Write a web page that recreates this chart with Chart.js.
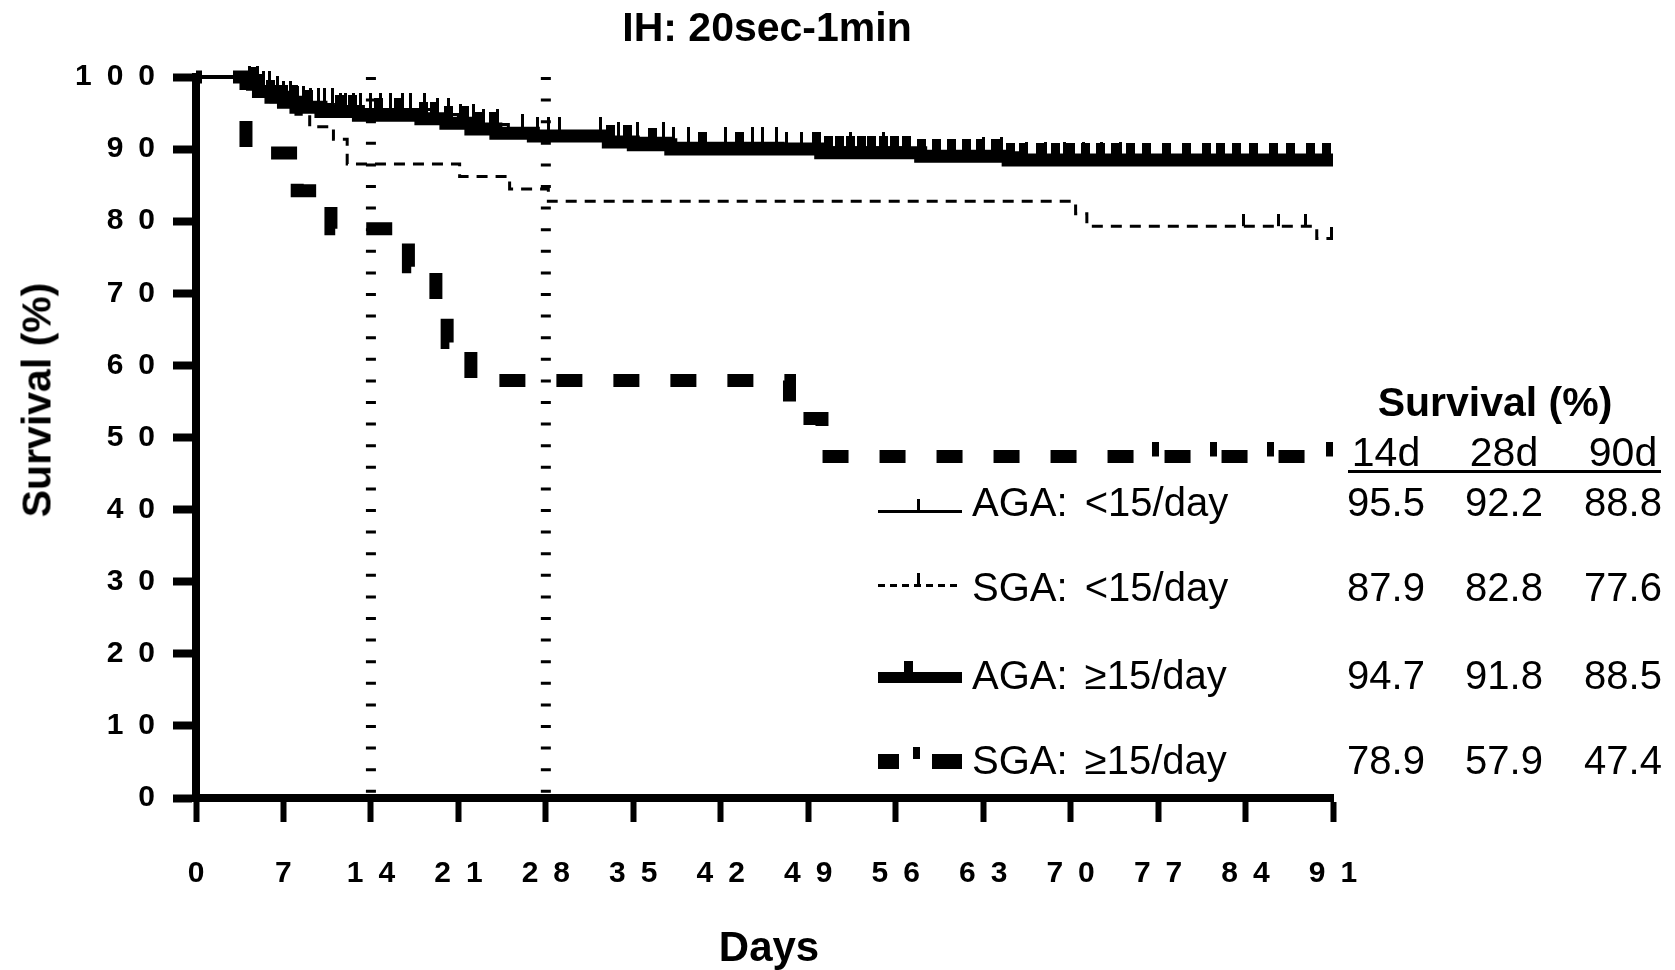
<!DOCTYPE html>
<html>
<head>
<meta charset="utf-8">
<title>IH: 20sec-1min</title>
<script src="https://cdn.jsdelivr.net/npm/chart.js@4.4.1/dist/chart.umd.min.js"></script>
<style>
body { margin: 0; background: #fff; }
#wrap { position: relative; width: 1675px; height: 970px; font-family: "Liberation Sans", Arial, sans-serif; color: #000; }
#wrap canvas { position: absolute; left: 0; top: 0; }
.lbl { position: absolute; line-height: 1; white-space: nowrap; transform: translate(-50%, -50%); }
.lft { transform: translate(0, -50%); }
.mk { position: absolute; background: #000; }
</style>
</head>
<body>
<div id="wrap">
  <canvas id="kmChart" width="1675" height="970"></canvas>

  <div class="lbl" style="left:767px; top:27px; font-size:41px; font-weight:bold;">IH: 20sec-1min</div>
  <div class="lbl" style="left:37px; top:400px; font-size:41px; font-weight:bold; transform:translate(-50%,-50%) rotate(-90deg);">Survival (%)</div>
  <div class="lbl" style="left:769px; top:947px; font-size:42px; font-weight:bold;">Days</div>

  <!-- legend samples -->
  <div class="mk" style="left:878px; top:510px; width:84px; height:3px;"></div>
  <div class="mk" style="left:917px; top:499px; width:3px; height:12px;"></div>

  <div class="mk" style="left:878px; top:584px; width:84px; height:3px; background:repeating-linear-gradient(90deg, #000 0 7px, transparent 7px 12px);"></div>
  <div class="mk" style="left:917px; top:573px; width:3px; height:12px;"></div>

  <div class="mk" style="left:878px; top:672px; width:84px; height:11px;"></div>
  <div class="mk" style="left:904px; top:661px; width:9px; height:12px;"></div>

  <div class="mk" style="left:878px; top:754px; width:21px; height:15px;"></div>
  <div class="mk" style="left:913px; top:747px; width:7px; height:12px;"></div>
  <div class="mk" style="left:932px; top:754px; width:30px; height:15px;"></div>

  <div id="legendText"></div>
  <div id="survTable"></div>
</div>

<script>
// Axis ticks
const xTicks = [0, 7, 14, 21, 28, 35, 42, 49, 56, 63, 70, 77, 84, 91];
const yTicks = [0, 10, 20, 30, 40, 50, 60, 70, 80, 90, 100];
const markerDays = [14, 28];

// Kaplan-Meier steps: day of each drop, survival (%) after it
const agaLowDays = [0, 4, 5, 6, 7, 8, 9, 11, 19, 21, 23, 25, 27, 33, 38, 47, 57, 66, 91];
const agaLowSurv = [100, 99.3, 98.6, 97.9, 97.2, 96.6, 96.2, 95.5, 94.8, 94.1, 93.4, 92.6, 92.2, 91.5, 90.8, 90.2, 89.5, 88.8, 88.8];
const agaLowCensor = [4.3, 4.9, 5.4, 5.9, 6.5, 7.0, 7.6, 8.1, 8.6, 9.2, 9.8, 10.3, 10.9, 11.6, 12.0, 12.6, 13.2,
                      14.0, 14.8, 15.6, 16.5, 17.2, 18.3, 19.3, 20.2, 21.2, 22.2, 23.0, 24.1,
                      26.1, 27.3, 28.2, 29.1, 32.4, 33.8, 35.3, 37.4, 38.2, 39.4, 42.4, 44.5, 45.3, 46.5, 47.3, 48.5,
                      52.4, 55.0, 63.0, 64.5, 66.5, 68.0, 69.5, 71.0, 72.5, 74.0];

const sgaLowDays = [0, 5, 6, 8, 9.1, 11, 12.1, 21.1, 25.1, 28.2, 70.4, 71.3, 89.7, 91];
const sgaLowSurv = [100, 98.28, 96.55, 94.83, 93.10, 91.38, 87.93, 86.21, 84.48, 82.76, 81.03, 79.31, 77.59, 77.59];
const sgaLowCensor = [83.8, 86.6, 88.8, 90.9];

const agaHighDays = [0, 4, 5, 6, 7, 8, 10, 13, 18, 20, 22, 24, 27, 33, 35, 38, 50, 58, 65, 91];
const agaHighSurv = [100, 99.0, 98.0, 97.2, 96.5, 95.8, 95.2, 94.7, 94.2, 93.6, 92.8, 92.2, 91.8, 91.0, 90.6, 90.0, 89.5, 89.0, 88.5, 88.5];
const agaHighCensor = [4.6, 5.2, 6.0, 7.0, 7.8, 9.0, 11.5, 12.5, 14.6, 16.2, 18.2, 19.1, 20.2, 21.5, 22.6, 23.8,
                       33.2, 34.5, 36.5, 40.5, 43.5,
                       49.7, 50.6, 51.5, 52.4, 53.3, 54.1, 55.0, 55.9, 56.9, 58.1, 59.3, 60.5, 61.7, 62.8, 64.0, 65.2, 66.2, 67.6,
                       68.8, 70.0, 71.2, 72.4, 73.6, 74.8, 76.1, 77.7, 79.3, 80.9, 82.0, 83.3, 84.6, 86.2, 87.6, 89.2, 90.5];

const sgaHighDays = [0, 4, 8.1, 10.8, 17, 19.2, 20.1, 22, 47.5, 50.1, 91];
const sgaHighSurv = [100, 89.47, 84.21, 78.95, 73.68, 68.42, 63.16, 57.89, 52.63, 47.37, 47.37];
const sgaHighCensor = [76.8, 81.4, 86.0, 90.7];

// Legend and survival table
const groupLabels = ['AGA: <15/day', 'SGA: <15/day', 'AGA: \u226515/day', 'SGA: \u226515/day'];
const tableCols = ['14d', '28d', '90d'];
const surv14 = [95.5, 87.9, 94.7, 78.9];
const surv28 = [92.2, 82.8, 91.8, 57.9];
const surv90 = [88.8, 77.6, 88.5, 47.4];

// survival value at day t on a step curve
function survAt(days, surv, t) {
    let v = surv[0];
    for (let i = 0; i < days.length; i++) {
        if (days[i] <= t) v = surv[i];
    }
    return v;
}

// censor mark: vertical tick that rises from the curve
function tickImage(w, h) {
    const c = document.createElement('canvas');
    c.width = w;
    c.height = h * 2;
    const g = c.getContext('2d');
    g.fillStyle = '#000';
    g.fillRect(0, 0, w, h);
    return c;
}

function curve(days, surv, width, dash, extra) {
    return Object.assign({
        data: days.map((d, i) => ({ x: d, y: surv[i] })),
        borderColor: '#000',
        borderWidth: width,
        borderDash: dash,
        borderCapStyle: 'butt',
        borderJoinStyle: 'miter',
        stepped: 'before',
        pointRadius: 0,
        fill: false,
        clip: false
    }, extra || {});
}

function censor(marks, days, surv, img) {
    return {
        data: marks.map(d => ({ x: d, y: survAt(days, surv, d) })),
        showLine: false,
        pointStyle: img,
        pointRadius: 4,
        borderColor: '#000',
        backgroundColor: '#000',
        clip: false
    };
}

// tick labels are drawn with the digits spread apart, as in the figure
function spaced(v) {
    return String(v).split('').join('\u2002');
}

const datasets = [];

markerDays.forEach(d => {
    datasets.push({
        data: [{ x: d, y: 100 }, { x: d, y: 0 }],
        borderColor: '#000',
        borderWidth: 10,
        borderDash: [3, 18.6],
        borderCapStyle: 'butt',
        pointRadius: 0,
        clip: false
    });
});

datasets.push(curve(sgaHighDays, sgaHighSurv, 13, [26, 31], { borderDashOffset: 20 }));
datasets.push(curve(sgaLowDays, sgaLowSurv, 3, [11, 8]));
datasets.push(curve(agaHighDays, agaHighSurv, 13, [], {
    segment: { borderWidth: ctx => ctx.p0.parsed.x === 0 ? 4 : undefined }
}));
datasets.push(curve(agaLowDays, agaLowSurv, 3, []));

datasets.push(censor(sgaHighCensor, sgaHighDays, sgaHighSurv, tickImage(7, 14)));
datasets.push(censor(sgaLowCensor, sgaLowDays, sgaLowSurv, tickImage(3, 12)));
datasets.push(censor(agaHighCensor, agaHighDays, agaHighSurv, tickImage(9, 17)));
datasets.push(censor(agaLowCensor, agaLowDays, agaLowSurv, tickImage(3, 16)));

const tickFont = { family: '"Liberation Sans", Arial, sans-serif', size: 30, weight: 'bold' };

new Chart(document.getElementById('kmChart'), {
    type: 'line',
    data: { datasets: datasets },
    options: {
        responsive: false,
        animation: false,
        devicePixelRatio: 1,
        events: [],
        layout: { padding: { left: 0, right: 342, top: 77, bottom: 0 } },
        plugins: {
            legend: { display: false },
            tooltip: { enabled: false },
            title: { display: false }
        },
        scales: {
            x: {
                type: 'linear',
                min: 0,
                max: 91,
                afterBuildTicks: scale => { scale.ticks = xTicks.map(v => ({ value: v })); },
                afterFit: scale => { scale.height = 172; },
                ticks: { callback: v => spaced(v), font: tickFont, color: '#000', padding: 34, maxRotation: 0, autoSkip: false },
                grid: { drawOnChartArea: false, drawTicks: true, tickLength: 24, tickWidth: 6, tickColor: '#000' },
                border: { display: true, width: 8, color: '#000' }
            },
            y: {
                type: 'linear',
                min: 0,
                max: 100,
                afterBuildTicks: scale => { scale.ticks = yTicks.map(v => ({ value: v })); },
                afterFit: scale => { scale.width = 196; },
                ticks: { callback: v => spaced(v), font: tickFont, color: '#000', padding: 18, autoSkip: false },
                grid: { drawOnChartArea: false, drawTicks: true, tickLength: 23, tickWidth: 8, tickColor: '#000' },
                border: { display: true, width: 8, color: '#000' }
            }
        }
    }
});

// legend text and survival table as html
const rowY = [502, 587, 675, 760];
const colX = [1386, 1504, 1623];
const legendBox = document.getElementById('legendText');
const tableBox = document.getElementById('survTable');

groupLabels.forEach((label, i) => {
    const el = document.createElement('div');
    el.className = 'lbl lft';
    el.style.cssText = `left:972px; top:${rowY[i]}px; font-size:40px; word-spacing:6px;`;
    el.textContent = label;
    legendBox.appendChild(el);

    [surv14[i], surv28[i], surv90[i]].forEach((v, j) => {
        const cell = document.createElement('div');
        cell.className = 'lbl';
        cell.style.cssText = `left:${colX[j]}px; top:${rowY[i]}px; font-size:40px;`;
        cell.textContent = v.toFixed(1);
        tableBox.appendChild(cell);
    });
});

const head = document.createElement('div');
head.className = 'lbl';
head.style.cssText = 'left:1495px; top:402px; font-size:41px; font-weight:bold;';
head.textContent = 'Survival (%)';
tableBox.appendChild(head);

tableCols.forEach((c, j) => {
    const el = document.createElement('div');
    el.className = 'lbl';
    el.style.cssText = `left:${colX[j]}px; top:452px; font-size:41px;`;
    el.textContent = c;
    tableBox.appendChild(el);
});

const rule = document.createElement('div');
rule.className = 'mk';
rule.style.cssText = 'left:1348px; top:470px; width:313px; height:3px;';
tableBox.appendChild(rule);
</script>
</body>
</html>
